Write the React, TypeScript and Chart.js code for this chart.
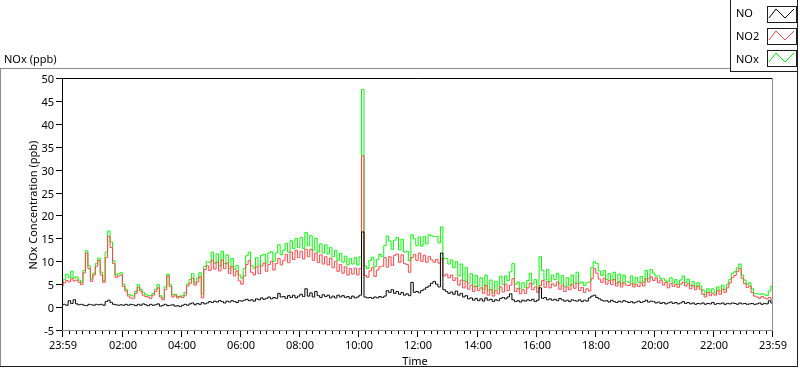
import React, { useEffect, useRef } from 'react';
import { Chart, registerables } from 'chart.js';

Chart.register(...registerables);

// Sampling grid: first sample at 23:59 (minute -1), one sample every 5 minutes
const START_MIN = -1;
const STEP_MIN = 5;

// NO2 (ppb), red series
const NO2 = [
  4.6, 5.3, 5.8, 5.5, 6.2, 5.7, 5.9, 5.4, 4.9, 7.5,
  11.8, 8.4, 5.6, 7.0, 8.9, 10.2, 7.0, 5.4, 10.8, 15.4,
  13.0, 9.5, 6.5, 6.8, 7.0, 4.5, 3.5, 2.4, 2.0, 1.9,
  3.0, 4.3, 3.5, 2.6, 2.3, 2.2, 1.9, 2.6, 3.4, 4.2,
  2.2, 1.6, 3.8, 6.8, 4.5, 2.2, 2.6, 2.0, 2.3, 2.1,
  2.6, 4.6, 5.2, 6.3, 4.8, 5.5, 6.6, 2.0, 8.2, 9.0,
  8.0, 10.2, 8.3, 9.8, 7.9, 10.3, 8.4, 9.6, 7.3, 8.9,
  6.8, 7.9, 5.7, 5.0, 6.8, 9.3, 10.2, 7.6, 7.0, 8.8,
  7.3, 9.0, 9.6, 7.8, 9.3, 10.0, 8.1, 9.5, 10.6, 9.2,
  10.2, 11.5, 9.7, 12.0, 10.4, 12.4, 10.8, 12.2, 10.5, 12.6,
  11.0, 12.6, 10.2, 11.8, 9.7, 11.4, 9.4, 11.0, 9.2, 10.7,
  8.6, 10.0, 7.8, 9.3, 7.4, 8.8, 7.0, 8.4, 7.2, 8.5,
  7.0, 8.4, 33.0, 6.9, 6.5, 7.9, 8.6, 6.7, 8.1, 8.8,
  8.9, 10.8, 8.7, 11.0, 9.1, 11.3, 11.6, 9.8, 11.4, 9.5,
  9.3, 7.6, 10.8, 11.5, 10.2, 11.8, 10.0, 11.3, 9.8, 11.0,
  10.3, 9.8, 10.4, 9.6, 10.5, 6.8, 7.2, 6.4, 7.0, 5.8,
  6.4, 4.8, 5.9, 4.2, 5.6, 3.9, 4.8, 3.4, 4.5, 3.6,
  4.2, 3.0, 4.7, 2.6, 3.8, 2.4, 3.6, 2.9, 4.4, 3.3,
  5.0, 3.6, 4.8, 6.2, 3.4, 4.1, 2.9, 3.8, 3.0, 4.2,
  5.2, 3.8, 4.4, 3.2, 4.7, 5.8, 4.3, 5.6, 4.2, 5.1,
  4.6, 5.5, 3.9, 4.8, 3.4, 4.4, 3.8, 5.0, 4.1, 5.2,
  3.6, 4.3, 3.2, 4.0, 3.5, 6.2, 8.4, 7.4, 6.1, 5.4,
  6.3, 5.0, 5.8, 4.9, 6.0, 4.6, 5.5, 4.4, 5.3, 4.8,
  4.7, 5.2, 4.4, 5.0, 4.5, 5.3, 4.6, 6.2, 5.5, 6.6,
  5.8, 6.4, 5.3, 5.9, 4.8, 5.4, 4.2, 5.1, 4.5, 4.9,
  4.3, 5.0, 5.4, 4.6, 5.1, 4.0, 4.7, 3.8, 4.5, 3.9,
  2.8, 2.2, 3.2, 2.5, 3.0, 2.6, 3.6, 2.8, 3.9, 3.2,
  4.2, 5.3, 6.4, 6.9, 7.8, 8.4, 6.3, 5.1, 4.3, 4.6,
  3.2, 2.4, 2.2, 1.9, 2.3, 2.0, 1.8, 2.1, 1.6,
];

// NOx (ppb), green series
const NOX = [
  5.2, 6.0, 7.2, 6.4, 7.8, 6.3, 6.6, 5.9, 5.4, 8.0,
  12.3, 9.0, 6.1, 7.4, 9.5, 10.7, 7.6, 5.8, 12.0, 16.6,
  14.2, 10.1, 7.0, 7.3, 7.5, 5.0, 3.9, 2.8, 2.6, 2.4,
  3.4, 4.9, 3.9, 3.2, 2.8, 2.5, 2.5, 3.0, 3.9, 4.9,
  2.5, 2.0, 4.4, 7.2, 4.9, 2.7, 2.8, 2.3, 2.4, 2.5,
  3.2, 5.0, 6.0, 7.3, 5.3, 6.3, 7.5, 2.9, 8.9, 9.9,
  9.8, 12.0, 9.6, 11.6, 9.0, 12.2, 9.5, 11.4, 8.4, 10.6,
  8.2, 9.1, 7.0, 6.3, 8.4, 11.2, 12.0, 9.0, 8.5, 10.8,
  9.0, 11.3, 11.5, 9.6, 11.8, 12.1, 10.0, 11.8, 13.6, 11.4,
  12.4, 13.9, 12.0, 14.5, 12.8, 15.0, 13.0, 15.2, 12.8, 16.3,
  13.4, 15.6, 12.4, 15.0, 12.0, 13.8, 11.8, 13.6, 11.6, 13.0,
  11.0, 12.4, 10.2, 11.7, 9.8, 11.1, 9.2, 10.6, 9.4, 10.8,
  9.2, 11.0, 47.5, 9.0, 8.4, 10.2, 10.9, 8.8, 10.4, 11.5,
  11.0, 13.4, 15.5, 14.4, 12.6, 14.6, 15.2, 12.5, 14.8, 12.0,
  12.2, 10.1, 15.8, 14.9, 13.4, 15.3, 13.3, 15.4, 13.8, 15.8,
  15.5, 15.4, 15.4, 14.0, 17.5, 10.6, 10.6, 9.4, 10.3, 8.6,
  9.9, 6.8, 9.4, 5.8, 8.6, 5.2, 7.3, 4.5, 6.9, 4.6,
  6.4, 3.9, 7.0, 3.7, 5.9, 3.2, 5.6, 3.9, 6.7, 4.9,
  6.8, 5.8, 7.7, 9.5, 5.0, 5.5, 4.0, 5.3, 4.3, 5.8,
  7.4, 5.0, 6.0, 4.2, 11.0, 8.0, 5.9, 8.2, 5.5, 7.0,
  6.0, 7.4, 5.1, 6.9, 4.4, 6.4, 4.7, 7.0, 5.2, 7.6,
  5.2, 5.5, 4.7, 5.3, 5.5, 8.6, 9.9, 9.5, 7.9, 6.9,
  8.0, 6.0, 7.3, 5.9, 7.6, 5.2, 7.2, 5.1, 7.0, 5.6,
  5.4, 6.8, 5.0, 6.5, 5.4, 6.7, 5.4, 8.0, 6.2, 8.2,
  7.4, 6.8, 6.8, 6.2, 6.2, 5.7, 5.5, 6.4, 5.2, 6.0,
  5.0, 5.9, 6.8, 5.4, 6.1, 4.7, 5.6, 4.4, 5.3, 4.6,
  3.7, 2.8, 4.0, 3.2, 4.0, 3.2, 4.4, 3.5, 4.8, 3.8,
  5.0, 6.0, 7.3, 7.7, 8.6, 9.4, 7.0, 5.9, 4.9, 5.3,
  4.0, 3.0, 2.9, 2.8, 2.9, 2.8, 2.5, 3.5, 4.5,
];

// NO (ppb), black series
const NO = [
  0.5, 0.6, 0.4, 1.4, 0.8, 1.6, 0.7, 0.5, 0.6, 0.4,
  0.3, 0.6, 0.5, 0.4, 0.6, 0.5, 0.6, 0.4, 1.2, 1.5,
  1.0, 0.6, 0.5, 0.4, 0.5, 0.4, 0.6, 0.4, 0.6, 0.5,
  0.3, 0.6, 0.4, 0.7, 0.5, 0.3, 0.6, 0.4, 0.5, 0.7,
  0.2, 0.4, 0.6, 0.3, 0.4, 0.5, 0.2, 0.3, 0.1, 0.4,
  0.6, 0.4, 0.7, 0.9, 0.5, 0.8, 0.6, 1.0, 0.7, 0.9,
  1.2, 1.0, 1.3, 1.1, 1.4, 1.2, 0.9, 1.3, 1.1, 1.4,
  1.2, 1.0, 1.4, 1.3, 1.5, 1.7, 1.4, 1.6, 1.3, 1.8,
  1.6, 2.0, 1.7, 1.9, 2.2, 1.8, 2.1, 1.9, 3.0, 2.2,
  2.3, 1.9, 2.5, 2.1, 2.6, 2.0, 2.4, 2.8, 2.3, 4.0,
  2.4, 3.1, 2.2, 3.4, 2.5, 2.1, 2.7, 2.3, 2.6, 2.0,
  2.4, 2.0, 2.6, 2.2, 2.5, 2.1, 2.3, 1.9, 2.4, 2.0,
  2.2, 2.6, 16.4, 2.2, 2.0, 2.1, 1.9, 2.2, 2.0, 2.3,
  2.1, 2.4, 3.6, 3.2, 3.8, 3.0, 3.4, 2.8, 3.2, 2.6,
  2.9, 2.5, 5.4, 3.2, 3.4, 3.1, 3.6, 3.9, 4.3, 4.6,
  5.2, 5.6, 5.0, 4.4, 11.8, 3.8, 3.4, 3.0, 3.3, 2.8,
  3.5, 2.6, 3.0, 2.2, 2.5, 1.8, 2.0, 1.5, 1.9, 1.4,
  1.8, 1.3, 2.0, 1.5, 1.7, 1.2, 1.6, 1.4, 1.9, 2.1,
  1.8, 2.2, 2.9, 1.6, 1.2, 1.4, 1.1, 1.5, 1.3, 1.6,
  1.4, 1.7, 1.2, 1.5, 4.2, 1.9, 2.1, 1.6, 1.8, 1.5,
  1.7, 1.4, 1.9, 1.6, 1.3, 1.5, 1.2, 1.6, 1.4, 1.3,
  1.6, 1.2, 1.5, 1.3, 2.0, 2.4, 2.6, 2.1, 1.8, 1.5,
  1.3, 1.4, 1.1, 1.5, 1.2, 1.0, 1.3, 1.1, 1.4, 1.2,
  1.0, 1.2, 0.9, 1.1, 1.3, 1.0, 1.2, 1.5, 1.1, 1.3,
  1.2, 0.9, 1.1, 0.8, 1.0, 0.7, 0.9, 1.1, 0.8, 1.0,
  0.7, 0.9, 1.2, 0.8, 1.0, 0.7, 0.9, 0.6, 0.8, 0.7,
  0.9, 0.6, 0.8, 0.7, 1.0, 0.6, 0.8, 0.7, 0.9, 0.6,
  0.8, 0.7, 0.9, 0.8, 0.6, 0.9, 0.7, 0.8, 0.6, 0.7,
  0.8, 0.6, 0.7, 0.9, 0.6, 0.8, 0.7, 1.4, 0.9,
];

// Axis ticks (minutes from midnight) and labels
const X_MIN = -1;
const X_MAX = 1439;
const X_MAJOR_TICKS = [-1, 120, 240, 360, 480, 600, 720, 840, 960, 1080, 1200, 1320, 1439];
const X_TICK_LABELS = ['23:59', '02:00', '04:00', '06:00', '08:00', '10:00', '12:00', '14:00', '16:00', '18:00', '20:00', '22:00', '23:59'];
const X_MINOR_DIVISIONS = 9; // minor divisions per 2 hours
const Y_MIN = -5;
const Y_MAX = 50;
const Y_TICKS = [-5, 0, 5, 10, 15, 20, 25, 30, 35, 40, 45, 50];
const Y_TICK_LABELS = ['-5', '0', '5', '10', '15', '20', '25', '30', '35', '40', '45', '50'];

const SERIES_NAMES = ['NO', 'NO2', 'NOx'];
const PANEL_TITLE = 'NOx (ppb)';
const Y_TITLE = 'NOx Concentration (ppb)';
const X_TITLE = 'Time';

const COLORS: Record<string, string> = { NO: '#000000', NO2: '#ff4444', NOx: '#00ff00' };
const FONT = '11px "Noto Sans"';

const framePlugin = {
  id: 'labviewFrame',
  beforeDraw(chart: any) {
    const ctx = chart.ctx;
    ctx.save();
    ctx.fillStyle = '#ffffff';
    ctx.fillRect(0, 0, chart.width, chart.height);
    ctx.restore();
  },
  afterDraw(chart: any) {
    const ctx = chart.ctx;
    const { left, top, right, bottom } = chart.chartArea;
    const xs = chart.scales.x;
    const ys = chart.scales.y;
    ctx.save();
    ctx.lineWidth = 1;

    const line = (x1: number, y1: number, x2: number, y2: number, c: string) => {
      ctx.strokeStyle = c;
      ctx.beginPath();
      ctx.moveTo(x1, y1);
      ctx.lineTo(x2, y2);
      ctx.stroke();
    };

    // outer frame
    line(0, 68.5, 730, 68.5, '#8c8c8c');
    line(0.5, 68, 0.5, 367, '#8c8c8c');
    line(0, 366.5, 798, 366.5, '#1e1e1e');
    line(797.5, 0, 797.5, 367, '#1e1e1e');

    // legend box
    ctx.fillStyle = '#ffffff';
    ctx.fillRect(731, 0, 66, 71);
    line(730.5, 0, 730.5, 72, '#1e1e1e');
    line(730, 71.5, 798, 71.5, '#1e1e1e');
    const boxTops = [6, 28, 50];
    const textBase = [17, 40, 63];
    ctx.font = FONT;
    ctx.textBaseline = 'alphabetic';
    ctx.textAlign = 'left';
    SERIES_NAMES.forEach((name, i) => {
      const bt = boxTops[i];
      ctx.fillStyle = '#000000';
      ctx.fillText(name, 736, textBase[i]);
      ctx.strokeStyle = '#1e1e1e';
      ctx.strokeRect(767.5, bt + 0.5, 29, 16);
      ctx.strokeStyle = COLORS[name];
      ctx.beginPath();
      ctx.moveTo(769, bt + 12);
      ctx.lineTo(776, bt + 3);
      ctx.lineTo(785, bt + 12);
      ctx.lineTo(794, bt + 3);
      ctx.stroke();
    });

    // panel title
    ctx.fillStyle = '#000000';
    ctx.fillText(PANEL_TITLE, 4, 63);

    // plot borders
    line(left, top + 0.5, right + 1, top + 0.5, '#000000');
    line(left + 0.5, top, left + 0.5, bottom + 1, '#000000');
    line(right + 0.5, top, right + 0.5, bottom + 1, '#8c8c8c');
    line(left, bottom + 0.5, right + 1, bottom + 0.5, '#8c8c8c');

    // y ticks + labels
    ctx.textAlign = 'right';
    Y_TICKS.forEach((v, i) => {
      const yp = Math.round(ys.getPixelForValue(v));
      line(left - 6, yp + 0.5, left, yp + 0.5, '#000000');
      ctx.fillStyle = '#000000';
      ctx.fillText(Y_TICK_LABELS[i], 54, yp + 4.5);
    });

    // x ticks (minor + major) + labels
    for (let j = 1; (j * 120) / X_MINOR_DIVISIONS < X_MAX - 1; j++) {
      const v = (j * 120) / X_MINOR_DIVISIONS;
      const x = Math.round(xs.getPixelForValue(v)) + 0.5;
      line(x, bottom + 1, x, bottom + 4, '#000000');
    }
    ctx.textAlign = 'center';
    X_MAJOR_TICKS.forEach((v, i) => {
      const xp = Math.round(xs.getPixelForValue(v));
      line(xp + 0.5, bottom + 1, xp + 0.5, bottom + 7, '#000000');
      ctx.fillStyle = '#000000';
      ctx.fillText(X_TICK_LABELS[i], xp + 1, 349);
    });

    // axis titles
    ctx.fillStyle = '#000000';
    ctx.textAlign = 'center';
    ctx.fillText(X_TITLE, (left + right) / 2 - 2, 365);
    ctx.translate(36.5, (top + bottom) / 2 + 1);
    ctx.rotate(-Math.PI / 2);
    ctx.fillText(Y_TITLE, 0, 0);
    ctx.restore();
  },
};

export default function App() {
  const canvasRef = useRef<HTMLCanvasElement | null>(null);

  useEffect(() => {
    const canvas = canvasRef.current;
    if (!canvas) return;
    const times = NO2.map((_, i) => START_MIN + i * STEP_MIN);
    const mk = (arr: number[]) => arr.map((v, i) => ({ x: times[i], y: v }));
    const ds = (label: string, arr: number[], order: number) => ({
      label,
      data: mk(arr),
      borderColor: COLORS[label],
      borderWidth: 1,
      pointRadius: 0,
      tension: 0,
      stepped: 'middle',
      order,
    });

    const chart = new Chart(canvas, {
      type: 'line',
      data: {
        datasets: [ds('NO', NO, 0), ds('NO2', NO2, 1), ds('NOx', NOX, 2)],
      },
      options: {
        responsive: false,
        animation: false,
        events: [],
        layout: { padding: { top: 78, right: 28, left: 0, bottom: 0 } },
        plugins: { legend: { display: false }, tooltip: { enabled: false }, title: { display: false } },
        scales: {
          x: {
            type: 'linear',
            min: X_MIN,
            max: X_MAX,
            grid: { display: false },
            border: { display: false },
            ticks: { display: false },
            afterBuildTicks: (s: any) => {
              s.ticks = X_MAJOR_TICKS.map((v) => ({ value: v }));
            },
            afterFit: (s: any) => {
              s.height = 39;
            },
          },
          y: {
            type: 'linear',
            min: Y_MIN,
            max: Y_MAX,
            grid: { display: false },
            border: { display: false },
            ticks: { display: false },
            afterBuildTicks: (s: any) => {
              s.ticks = Y_TICKS.map((v) => ({ value: v }));
            },
            afterFit: (s: any) => {
              s.width = 62;
            },
          },
        },
      },
      plugins: [framePlugin],
    } as any);

    return () => chart.destroy();
  }, []);

  return (
    <div style={{ position: 'fixed', left: 0, top: 0, width: 800, height: 369, background: '#fff' }}>
      <canvas ref={canvasRef} width={800} height={369} style={{ display: 'block', width: 800, height: 369 }} />
    </div>
  );
}
